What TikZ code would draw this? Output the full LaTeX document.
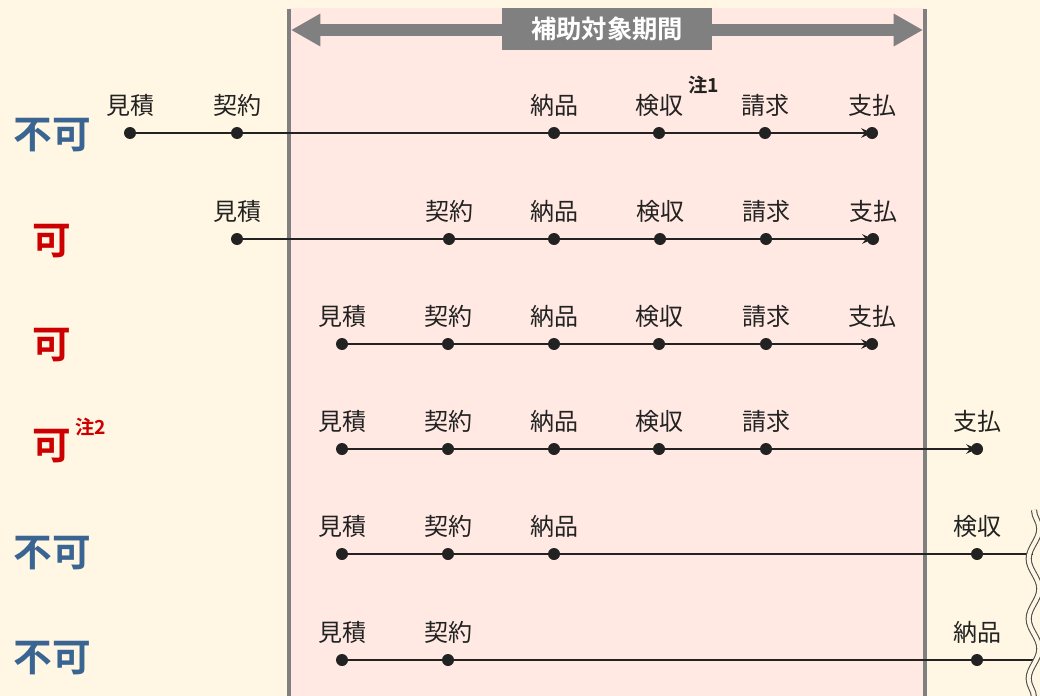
\documentclass[tikz,border=0pt]{standalone}
\usepackage{fontspec}
\setmainfont{Noto Sans CJK JP}
\newfontfamily\jpb{Noto Sans CJK JP Bold}
\usetikzlibrary{arrows.meta,decorations.pathmorphing}
\definecolor{cream}{HTML}{FFF7E4}
\definecolor{pinkbg}{HTML}{FFE9E2}
\definecolor{barg}{HTML}{808080}
\definecolor{okred}{HTML}{CC0000}
\definecolor{ngblue}{HTML}{3A6592}
\definecolor{ink}{HTML}{222222}
\begin{document}
\begin{tikzpicture}[x=0.75pt,y=-0.75pt,
  dot/.style={circle,fill=ink,inner sep=0pt,minimum size=9pt},
  lbl/.style={font=\fontsize{18}{20}\selectfont,text=ink,inner sep=0pt},
  verdict/.style={font=\jpb\fontsize{29}{31}\selectfont,inner sep=0pt},
  ng/.style={verdict,text=ngblue},
  ok/.style={verdict,text=okred},
  note/.style={font=\jpb\fontsize{14.5}{16}\selectfont,inner sep=0pt},
  tl/.style={draw=ink,line width=1.5pt},
  tla/.style={tl,-{Stealth[length=8pt,width=7pt]}},
  vline/.style={draw=barg,line width=3pt}
]
\useasboundingbox (0,0) rectangle (1040,696);
\fill[cream] (0,0) rectangle (1040,696);
\fill[pinkbg] (289,8) rectangle (925,696);
\draw[vline] (289,9) -- (289,696);
\draw[vline] (925,9) -- (925,696);
% top period arrow
\coordinate (pl) at (291,30);
\coordinate (pr) at (923,30);
\draw[barg,line width=9pt,{Triangle[length=22pt,width=23pt]}-{Triangle[length=22pt,width=23pt]}] (pl) -- (pr);
\node[fill=barg,minimum width=157pt,minimum height=31pt,inner sep=0pt,text=white,font=\jpb\fontsize{19}{21}\selectfont] (period) at (607,29) {補助対象期間};

% verdicts
\node[ng] (v1) at (52,135) {不可};
\node[ok] (v2) at (52,241) {可};
\node[ok] (v3) at (52,345) {可};
\node[ok] (v4) at (52,446) {可};
\node[note,text=okred] (n2) at (91,427) {注2};
\node[ng] (v5) at (52,553) {不可};
\node[ng] (v6) at (52,658) {不可};

% row 1
\foreach \n/\x/\t in {a1/130/見積,a2/237/契約,a3/554/納品,a4/659/検収,a5/765/請求,a6/872/支払}{
  \node[dot] (\n) at (\x,133) {};
  \node[lbl] (\n t) at (\x,105) {\t};
}
\node[note,text=ink] (n1) at (704,85) {注1};
\draw[tl] (a1) -- (a2) -- (a3) -- (a4) -- (a5);
\draw[tla] (a5) -- (a6.center);

% row 2
\foreach \n/\x/\t in {b1/237/見積,b2/449/契約,b3/554/納品,b4/660/検収,b5/766/請求,b6/873/支払}{
  \node[dot] (\n) at (\x,239) {};
  \node[lbl] (\n t) at (\x,211) {\t};
}
\draw[tl] (b1) -- (b2) -- (b3) -- (b4) -- (b5);
\draw[tla] (b5) -- (b6.center);

% row 3
\foreach \n/\x/\t in {c1/342/見積,c2/448/契約,c3/554/納品,c4/659/検収,c5/766/請求,c6/872/支払}{
  \node[dot] (\n) at (\x,344) {};
  \node[lbl] (\n t) at (\x,316) {\t};
}
\draw[tl] (c1) -- (c2) -- (c3) -- (c4) -- (c5);
\draw[tla] (c5) -- (c6.center);

% row 4
\foreach \n/\x/\t in {d1/342/見積,d2/448/契約,d3/554/納品,d4/659/検収,d5/766/請求,d6/977/支払}{
  \node[dot] (\n) at (\x,449) {};
  \node[lbl] (\n t) at (\x,421) {\t};
}
\draw[tl] (d1) -- (d2) -- (d3) -- (d4) -- (d5);
\draw[tla] (d5) -- (d6.center);

% row 5
\foreach \n/\x/\t in {e1/342/見積,e2/448/契約,e3/554/納品,e4/977/検収}{
  \node[dot] (\n) at (\x,554) {};
  \node[lbl] (\n t) at (\x,526) {\t};
}
\coordinate (e5) at (1033,554);
\draw[tl] (e1) -- (e2) -- (e3) -- (e4) -- (e5);

% row 6
\foreach \n/\x/\t in {f1/342/見積,f2/448/契約,f3/977/納品}{
  \node[dot] (\n) at (\x,660) {};
  \node[lbl] (\n t) at (\x,632) {\t};
}
\coordinate (f4) at (1033,660);
\draw[tl] (f1) -- (f2) -- (f3) -- (f4);

% break mark
\coordinate (w1) at (1034,510);
\coordinate (w2) at (1034,710);
\draw[barg!60!black,line width=0.8pt,double=cream,double distance=3pt,
  decorate,decoration={snake,amplitude=4pt,segment length=45pt}] (w1) -- (w2);
\end{tikzpicture}
\end{document}
